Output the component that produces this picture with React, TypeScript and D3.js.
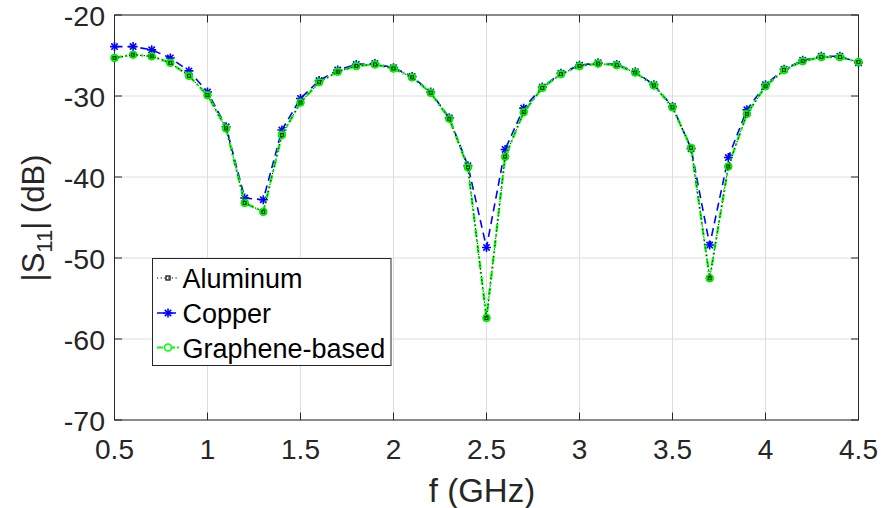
import React from "react";
import * as d3 from "d3";

const freq = [0.5,0.6,0.7,0.8,0.9,1.0,1.1,1.2,1.3,1.4,1.5,1.6,1.7,1.8,1.9,2.0,2.1,2.2,2.3,2.4,2.5,2.6,2.7,2.8,2.9,3.0,3.1,3.2,3.3,3.4,3.5,3.6,3.7,3.8,3.9,4.0,4.1,4.2,4.3,4.4,4.5];
const copper = [-23.9,-23.9,-24.3,-25.3,-26.9,-29.5,-33.8,-42.6,-42.8,-34.2,-30.3,-28.1,-26.8,-26.1,-26.0,-26.5,-27.6,-29.5,-32.7,-38.6,-48.7,-36.6,-31.5,-28.9,-27.2,-26.2,-25.9,-26.1,-27.0,-28.6,-31.3,-36.5,-48.4,-37.6,-31.7,-28.6,-26.7,-25.6,-25.1,-25.1,-25.9];
const graphene = [-25.3,-24.9,-25.1,-25.9,-27.5,-29.9,-34.0,-43.2,-44.3,-34.8,-30.8,-28.3,-27.0,-26.3,-26.1,-26.6,-27.7,-29.6,-32.8,-38.8,-57.4,-37.5,-32.0,-29.0,-27.3,-26.3,-26.0,-26.2,-27.1,-28.7,-31.4,-36.4,-52.5,-38.7,-32.2,-28.8,-26.8,-25.7,-25.2,-25.2,-25.8];
const aluminum = [-25.3,-24.9,-25.1,-25.9,-27.5,-29.9,-34.0,-43.2,-44.3,-34.8,-30.8,-28.3,-27.0,-26.3,-26.1,-26.6,-27.7,-29.6,-32.8,-38.8,-57.4,-37.5,-32.0,-29.0,-27.3,-26.3,-26.0,-26.2,-27.1,-28.7,-31.4,-36.4,-52.5,-38.7,-32.2,-28.8,-26.8,-25.7,-25.2,-25.2,-25.8];
const xTicks = [0.5,1,1.5,2,2.5,3,3.5,4,4.5];
const yTicks = [-70,-60,-50,-40,-30,-20];
const legendLabels = ["Aluminum","Copper","Graphene-based"];

const W = 883, H = 508;
const L = 114.5, R = 858.5, T = 15, B = 420;
const FONT = "Liberation Sans, Arial, Helvetica, sans-serif";

function Asterisk({ x, y, s, color }: { x: number; y: number; s: number; color: string }) {
  const d = s * 0.707;
  return (
    <g stroke={color} strokeWidth={1.6}>
      <line x1={x - s} y1={y} x2={x + s} y2={y} />
      <line x1={x} y1={y - s} x2={x} y2={y + s} />
      <line x1={x - d} y1={y - d} x2={x + d} y2={y + d} />
      <line x1={x - d} y1={y + d} x2={x + d} y2={y - d} />
    </g>
  );
}

export default function App() {
  const x = d3.scaleLinear().domain([0.5, 4.5]).range([L, R]);
  const y = d3.scaleLinear().domain([-70, -20]).range([B, T]);
  const line = (vals: number[]) =>
    d3.line<number>().x((_, i) => x(freq[i])).y((v) => y(v))(vals) || "";

  const legX = 152.5, legY = 258.5, legW = 238.5, legH = 107;
  const rowY = [278, 313, 347.5];

  return (
    <svg width={W} height={H} style={{ position: "fixed", left: 0, top: 0, background: "#fff" }} fontFamily={FONT}>
      <rect x={0} y={0} width={W} height={H} fill="#fff" />
      {/* grid */}
      {xTicks.map((t) => (
        <line key={"gx" + t} x1={x(t)} x2={x(t)} y1={T} y2={B} stroke="#dedede" strokeWidth={1} />
      ))}
      {yTicks.map((t) => (
        <line key={"gy" + t} x1={L} x2={R} y1={y(t)} y2={y(t)} stroke="#dedede" strokeWidth={1} />
      ))}
      {/* ticks */}
      {xTicks.map((t) => (
        <g key={"tx" + t} stroke="#262626" strokeWidth={1}>
          <line x1={x(t)} x2={x(t)} y1={B} y2={B - 7.5} />
          <line x1={x(t)} x2={x(t)} y1={T} y2={T + 7.5} />
        </g>
      ))}
      {yTicks.map((t) => (
        <g key={"ty" + t} stroke="#262626" strokeWidth={1}>
          <line x1={L} x2={L + 7.5} y1={y(t)} y2={y(t)} />
          <line x1={R} x2={R - 7.5} y1={y(t)} y2={y(t)} />
        </g>
      ))}
      <rect x={L} y={T} width={R - L} height={B - T} fill="none" stroke="#262626" strokeWidth={1} />
      {/* tick labels */}
      {xTicks.map((t) => (
        <text key={"lx" + t} x={x(t)} y={459} textAnchor="middle" fontSize={28} fill="#262626">
          {String(t)}
        </text>
      ))}
      {yTicks.map((t) => (
        <text key={"ly" + t} x={105} y={y(t) + 10.5} textAnchor="end" fontSize={28.5} fill="#262626">
          {String(t)}
        </text>
      ))}
      {/* axis labels */}
      <text x={482} y={502} textAnchor="middle" fontSize={33} fill="#262626">f (GHz)</text>
      <text transform="translate(44,218) rotate(-90)" textAnchor="middle" fontSize={31} fill="#262626">
        |S<tspan fontSize={22} dy={8}>11</tspan><tspan dy={-8}>| (dB)</tspan>
      </text>

      <defs>
        <clipPath id="plotclip">
          <rect x={L - 6} y={T - 6} width={R - L + 12} height={B - T + 12} />
        </clipPath>
      </defs>
      <g clipPath="url(#plotclip)">
        {/* Copper */}
        <path d={line(copper)} fill="none" stroke="#0000ff" strokeWidth={1.6} strokeDasharray="8,5" />
        {copper.map((v, i) => (
          <Asterisk key={"c" + i} x={x(freq[i])} y={y(v)} s={4.5} color="#0000ff" />
        ))}
        {/* Graphene */}
        <path d={line(graphene)} fill="none" stroke="#00ff00" strokeWidth={2.4} strokeDasharray="8,3,2,3" />
        {graphene.map((v, i) => (
          <circle key={"g" + i} cx={x(freq[i])} cy={y(v)} r={3.8} fill="#00ff00" stroke="#00e000" strokeWidth={1} />
        ))}
        {/* Aluminum */}
        <path d={line(aluminum)} fill="none" stroke="#000" strokeWidth={1} strokeDasharray="1.2,2.5" />
        {aluminum.map((v, i) => (
          <rect key={"a" + i} x={x(freq[i]) - 1.5} y={y(v) - 1.5} width={3} height={3} fill="none" stroke="#000" strokeWidth={0.8} />
        ))}
      </g>

      {/* legend */}
      <rect x={legX} y={legY} width={legW} height={legH} fill="#fff" stroke="#262626" strokeWidth={1} />
      <g>
        <line x1={157} x2={179} y1={rowY[0]} y2={rowY[0]} stroke="#000" strokeWidth={1} strokeDasharray="1.2,2.5" />
        <rect x={166} y={rowY[0] - 2} width={4} height={4} fill="none" stroke="#000" strokeWidth={1.2} />
        <line x1={157} x2={179} y1={rowY[1]} y2={rowY[1]} stroke="#0000ff" strokeWidth={1.6} strokeDasharray="8,3" />
        <Asterisk x={168} y={rowY[1]} s={4.5} color="#0000ff" />
        <line x1={157} x2={179} y1={rowY[2]} y2={rowY[2]} stroke="#00ff00" strokeWidth={2.2} strokeDasharray="6,2,2,2" />
        <circle cx={168} cy={rowY[2]} r={3.5} fill="#fff" stroke="#00ff00" strokeWidth={1.6} />
        {legendLabels.map((lab, i) => (
          <text key={lab} x={182.5} y={rowY[i] + 10} fontSize={27} fill="#000">{lab}</text>
        ))}
      </g>
    </svg>
  );
}
